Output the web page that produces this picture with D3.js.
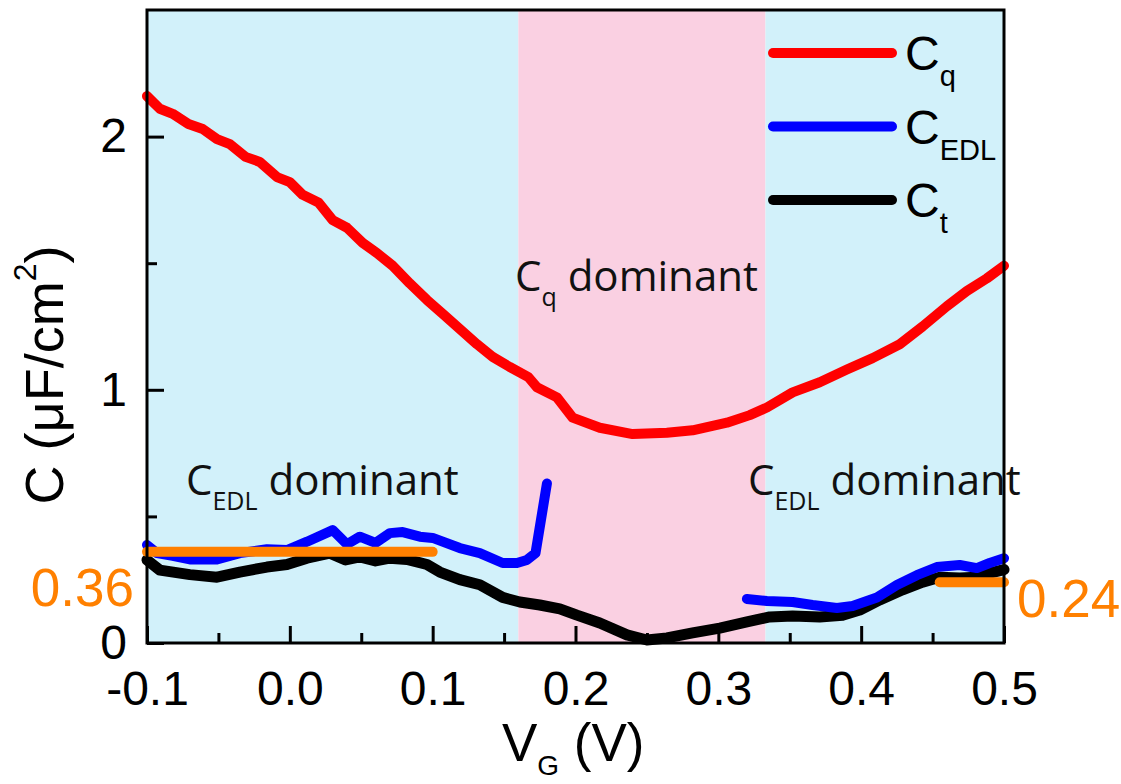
<!DOCTYPE html>
<html>
<head>
<meta charset="utf-8">
<script src="https://cdn.jsdelivr.net/npm/d3@7"></script>
<style>
  html, body { margin: 0; padding: 0; background: #ffffff; }
  svg { display: block; }
</style>
</head>
<body>
<svg id="chart" width="1121" height="784"></svg>
<script>
// Gate voltage (V) and capacitance (µF/cm²) samples for each component
const cqV = [-0.1, -0.091, -0.082, -0.071, -0.061, -0.051, -0.042, -0.031, -0.021, -0.009, 0.0, 0.009, 0.020, 0.030, 0.040, 0.051, 0.061, 0.072, 0.084, 0.096, 0.107, 0.119, 0.131, 0.142, 0.154, 0.167, 0.173, 0.187, 0.198, 0.217, 0.240, 0.264, 0.282, 0.306, 0.322, 0.334, 0.352, 0.371, 0.390, 0.408, 0.427, 0.443, 0.460, 0.474, 0.488, 0.5];
const cqC = [2.16, 2.11, 2.09, 2.05, 2.03, 1.99, 1.97, 1.92, 1.90, 1.84, 1.82, 1.77, 1.74, 1.67, 1.64, 1.58, 1.54, 1.49, 1.42, 1.355, 1.30, 1.24, 1.18, 1.13, 1.09, 1.05, 1.01, 0.97, 0.89, 0.85, 0.825, 0.83, 0.84, 0.87, 0.90, 0.93, 0.99, 1.03, 1.08, 1.125, 1.18, 1.25, 1.33, 1.39, 1.44, 1.49];

const edlLeftV = [-0.1, -0.093, -0.082, -0.070, -0.051, -0.035, -0.016, -0.002, 0.012, 0.030, 0.040, 0.049, 0.060, 0.070, 0.079, 0.091, 0.100, 0.119, 0.133, 0.149, 0.159, 0.166, 0.172, 0.180];
const edlLeftC = [0.387, 0.355, 0.344, 0.33, 0.33, 0.355, 0.37, 0.367, 0.40, 0.446, 0.39, 0.42, 0.395, 0.434, 0.438, 0.42, 0.415, 0.375, 0.355, 0.316, 0.316, 0.328, 0.355, 0.63];
const edlRightV = [0.320, 0.334, 0.352, 0.366, 0.383, 0.394, 0.411, 0.425, 0.439, 0.453, 0.469, 0.481, 0.490, 0.5];
const edlRightC = [0.174, 0.166, 0.162, 0.150, 0.138, 0.146, 0.18, 0.229, 0.268, 0.30, 0.308, 0.296, 0.316, 0.335];

const ctV = [-0.1, -0.091, -0.07, -0.051, -0.035, -0.016, -0.002, 0.012, 0.028, 0.039, 0.049, 0.060, 0.070, 0.082, 0.096, 0.105, 0.119, 0.133, 0.149, 0.161, 0.175, 0.189, 0.201, 0.217, 0.236, 0.250, 0.264, 0.282, 0.301, 0.320, 0.336, 0.352, 0.371, 0.387, 0.399, 0.413, 0.429, 0.443, 0.455, 0.469, 0.481, 0.490, 0.5];
const ctC = [0.328, 0.288, 0.27, 0.26, 0.28, 0.30, 0.31, 0.335, 0.355, 0.328, 0.34, 0.324, 0.335, 0.33, 0.31, 0.28, 0.25, 0.23, 0.18, 0.162, 0.15, 0.135, 0.11, 0.079, 0.032, 0.012, 0.02, 0.04, 0.059, 0.083, 0.103, 0.107, 0.103, 0.11, 0.13, 0.17, 0.21, 0.24, 0.26, 0.257, 0.26, 0.276, 0.29];

// Average total-capacitance levels in the two EDL-dominant windows
const avgLevels = [0.36, 0.24];
const avgLabels = ["0.36", "0.24"];
const avgFrom = [-0.1, 0.455];
const avgTo = [0.1, 0.5];

// Shaded regimes
const regionStart = [-0.1, 0.16, 0.333];
const regionEnd = [0.16, 0.333, 0.5];
const regionFill = ["#d2f1fa", "#fad0e2", "#d2f1fa"];

// Axis ticks
const xTicks = [-0.1, 0.0, 0.1, 0.2, 0.3, 0.4, 0.5];
const xTickLabels = ["-0.1", "0.0", "0.1", "0.2", "0.3", "0.4", "0.5"];
const xMinor = [-0.05, 0.05, 0.15, 0.25, 0.35, 0.45];
const yTicks = [0, 1, 2];
const yTickLabels = ["0", "1", "2"];
const yMinor = [0.5, 1.5];

// Legend
const legendMain = ["C", "C", "C"];
const legendSub = ["q", "EDL", "t"];
const legendColor = ["#ff0000", "#0000ff", "#000000"];

const svg = d3.select("#chart");
const L = 147, R = 1004, T = 10, B = 643;
const x = d3.scaleLinear().domain([-0.1, 0.5]).range([L, R]);
const y = d3.scaleLinear().domain([0, 2.5]).range([B, T]);

const ARIAL = "'Liberation Sans', Arial, sans-serif";
const SANS = "'Open Sans', 'Noto Sans', sans-serif";

// Background regimes
svg.append("g").selectAll("rect")
  .data(regionStart.map((s, i) => ({ s, e: regionEnd[i], f: regionFill[i] })))
  .join("rect")
  .attr("x", d => x(d.s))
  .attr("y", T)
  .attr("width", d => x(d.e) - x(d.s))
  .attr("height", B - T)
  .attr("fill", d => d.f);

// Regime annotations
function subText(g, px, py, main, sub, rest, size, subSize, subDy, family) {
  const t = g.append("text")
    .attr("x", px).attr("y", py)
    .attr("font-family", family)
    .attr("font-size", size)
    .attr("fill", "#111");
  t.append("tspan").text(main);
  t.append("tspan").attr("font-size", subSize).attr("dy", subDy).text(sub);
  if (rest) t.append("tspan").attr("dy", -subDy).text(rest);
  return t;
}
const ann = svg.append("g");
subText(ann, 186, 495, "C", "EDL", " dominant", 42, 25, 15, SANS);
subText(ann, 515, 291, "C", "q", " dominant", 42, 25, 15, SANS);
subText(ann, 748, 495, "C", "EDL", " dominant", 42, 25, 15, SANS);

// Curves
const line = d3.line().x(d => x(d[0])).y(d => y(d[1]));
const series = [
  { v: cqV, c: cqC, color: "#ff0000", w: 10 },
  { v: edlLeftV, c: edlLeftC, color: "#0000ff", w: 10 },
  { v: edlRightV, c: edlRightC, color: "#0000ff", w: 10 },
  { v: ctV, c: ctC, color: "#000000", w: 11 }
];
// black first so the blue trace sits above where they meet
const drawOrder = [3, 0, 1, 2];
svg.append("g").selectAll("path")
  .data(drawOrder.map(i => series[i]))
  .join("path")
  .attr("d", d => line(d.v.map((v, i) => [v, d.c[i]])))
  .attr("fill", "none")
  .attr("stroke", d => d.color)
  .attr("stroke-width", d => d.w)
  .attr("stroke-linejoin", "round")
  .attr("stroke-linecap", "round");

// Average levels
const avg = svg.append("g");
avg.selectAll("line")
  .data(avgLevels.map((lv, i) => ({ lv, a: avgFrom[i], b: avgTo[i] })))
  .join("line")
  .attr("x1", d => x(d.a)).attr("x2", d => x(d.b))
  .attr("y1", d => y(d.lv)).attr("y2", d => y(d.lv))
  .attr("stroke", "#ff8000")
  .attr("stroke-width", 10)
  .attr("stroke-linecap", "round");
avg.append("text")
  .attr("x", L - 13).attr("y", y(avgLevels[0]) + 36)
  .attr("dy", "0.35em")
  .attr("text-anchor", "end")
  .attr("font-family", ARIAL).attr("font-size", 53)
  .attr("fill", "#ff8000")
  .text(avgLabels[0]);
avg.append("text")
  .attr("x", R + 13).attr("y", y(avgLevels[1]) + 16)
  .attr("dy", "0.35em")
  .attr("text-anchor", "start")
  .attr("font-family", ARIAL).attr("font-size", 53)
  .attr("fill", "#ff8000")
  .text(avgLabels[1]);

// Axes with inward ticks
svg.append("g").attr("transform", `translate(0,${B})`)
  .call(d3.axisBottom(x).tickValues(xTicks).tickSize(-17).tickPadding(28)
    .tickFormat((d, i) => xTickLabels[i]));
svg.append("g").attr("transform", `translate(0,${B})`)
  .call(d3.axisBottom(x).tickValues(xMinor).tickSize(-10).tickFormat(""));
svg.append("g").attr("transform", `translate(${L},0)`)
  .call(d3.axisLeft(y).tickValues(yTicks).tickSize(-17).tickPadding(20)
    .tickFormat((d, i) => yTickLabels[i]));
svg.append("g").attr("transform", `translate(${L},0)`)
  .call(d3.axisLeft(y).tickValues(yMinor).tickSize(-10).tickFormat(""));
svg.selectAll(".domain").remove();
svg.selectAll(".tick line").attr("stroke", "#000").attr("stroke-width", 3);
svg.selectAll(".tick text")
  .attr("font-family", ARIAL).attr("font-size", 48).attr("fill", "#000");

// Frame
svg.append("rect")
  .attr("x", L).attr("y", T)
  .attr("width", R - L).attr("height", B - T)
  .attr("fill", "none")
  .attr("stroke", "#000")
  .attr("stroke-width", 3);

// Legend
const leg = svg.append("g");
legendMain.forEach((m, i) => {
  const ly = 53 + i * 73.5;
  leg.append("line")
    .attr("x1", 773).attr("x2", 892)
    .attr("y1", ly).attr("y2", ly)
    .attr("stroke", legendColor[i])
    .attr("stroke-width", 10)
    .attr("stroke-linecap", "round");
  const t = leg.append("text")
    .attr("x", 905).attr("y", ly + 17)
    .attr("font-family", ARIAL).attr("font-size", 48).attr("fill", "#000");
  t.append("tspan").text(m);
  t.append("tspan").attr("font-size", 29).attr("dy", 16).text(legendSub[i]);
});

// Axis titles
const xt = svg.append("text")
  .attr("x", 502).attr("y", 761)
  .attr("text-anchor", "start")
  .attr("font-family", ARIAL).attr("font-size", 53).attr("fill", "#000");
xt.append("tspan").text("V");
xt.append("tspan").attr("font-size", 28).attr("dy", 14).text("G");
xt.append("tspan").attr("dy", -14).text(" (V)");

const yt = svg.append("text")
  .attr("transform", "translate(63,375) rotate(-90)")
  .attr("text-anchor", "middle")
  .attr("font-family", ARIAL).attr("font-size", 54).attr("fill", "#000");
yt.append("tspan").text("C (μF/cm");
yt.append("tspan").attr("font-size", 32).attr("dy", -27).text("2");
yt.append("tspan").attr("dy", 27).text(")");
</script>
</body>
</html>
